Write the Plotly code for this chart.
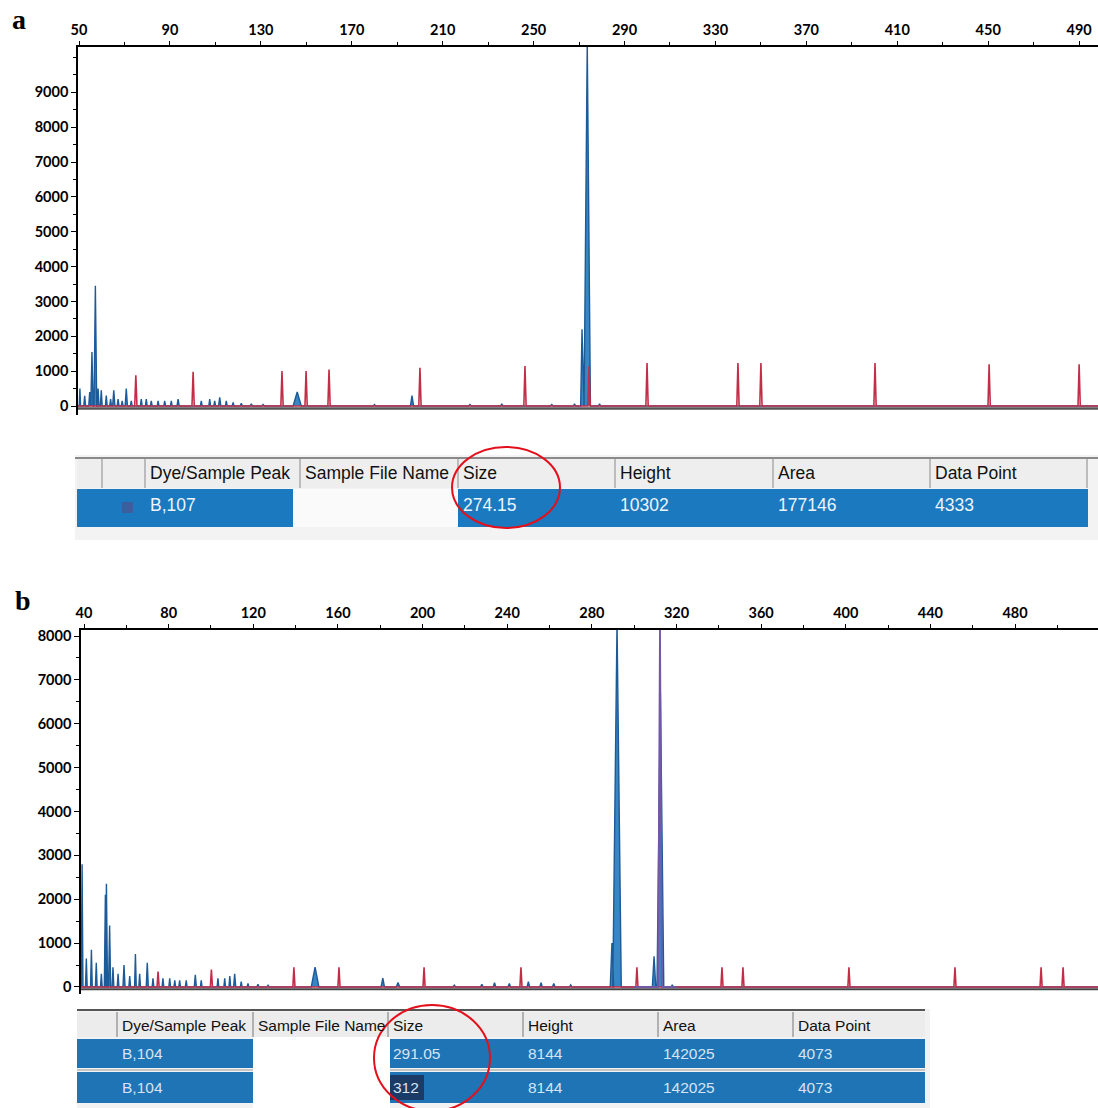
import plotly.graph_objects as go

# ---------------- DATA ----------------
# Panel a : blue sample dye peaks (size bp, height RFU, half-width bp)
a_blue_size = [50.4, 52.5, 54.7, 55.7, 57.2, 58.4, 59.8, 62.0, 63.9, 65.3, 67.2, 69.0, 70.8, 73.0,
               77.4, 79.6, 81.8, 84.8, 87.7, 90.6, 93.6, 103.8, 107.5, 109.7, 111.9, 114.8, 117.8,
               121.4, 125.8, 131.0, 146.0, 180.0, 196.5, 222.0, 236.0, 258.0, 268.0, 271.3, 273.6, 279.0]
a_blue_height = [500, 290, 400, 1550, 3450, 500, 450, 300, 200, 450, 200, 150, 500, 150,
                 200, 200, 150, 150, 150, 150, 200, 150, 200, 150, 250, 150, 100,
                 80, 60, 40, 400, 40, 300, 40, 50, 40, 60, 2200, 10400, 60]
a_blue_width = [0.3, 0.4, 0.4, 0.5, 0.6, 0.4, 0.4, 0.4, 0.4, 0.5, 0.4, 0.4, 0.5, 0.4,
                0.4, 0.4, 0.4, 0.4, 0.4, 0.4, 0.5, 0.4, 0.4, 0.4, 0.5, 0.4, 0.4,
                0.5, 0.5, 0.6, 1.8, 0.5, 0.7, 0.6, 0.6, 0.6, 0.5, 0.6, 1.4, 0.5]
# Panel a : red size-standard peaks
a_red_size = [75.0, 100.2, 139.3, 149.9, 160.0, 200.0, 246.2, 274.4, 299.9, 339.9, 350.0, 400.2, 450.4, 490.0]
a_red_height = [880, 980, 1000, 1000, 1050, 1100, 1150, 1150, 1230, 1230, 1230, 1230, 1200, 1200]

# Panel b : blue sample dye peaks
b_blue_size = [39.1, 41.1, 43.5, 45.8, 48.2, 50.1, 50.6, 52.1, 53.7, 56.1, 58.9, 61.6, 64.3, 66.3,
               69.9, 72.6, 77.3, 80.5, 82.9, 85.2, 88.3, 92.6, 95.4, 103.3, 106.5, 108.9, 111.2,
               114.3, 117.5, 122.2, 127.0, 149.2, 181.2, 188.4, 215.0, 228.0, 234.0, 241.0, 250.0,
               256.0, 262.0, 270.0, 289.5, 291.9, 309.4, 312.4, 318.0]
b_blue_height = [2800, 650, 850, 550, 300, 2100, 2350, 1400, 450, 300, 500, 250, 750, 300,
                 550, 200, 200, 200, 150, 150, 150, 280, 150, 200, 200, 250, 300,
                 120, 80, 60, 40, 450, 200, 100, 40, 60, 100, 80, 120,
                 100, 80, 50, 1000, 8300, 700, 6700, 50]
b_blue_width = [0.4, 0.4, 0.4, 0.4, 0.4, 0.5, 0.5, 0.5, 0.4, 0.4, 0.5, 0.4, 0.4, 0.4,
                0.5, 0.4, 0.4, 0.4, 0.4, 0.4, 0.4, 0.5, 0.4, 0.4, 0.4, 0.4, 0.5,
                0.4, 0.4, 0.5, 0.5, 1.8, 0.8, 0.8, 0.6, 0.6, 0.6, 0.6, 0.6,
                0.6, 0.6, 0.6, 0.8, 2.0, 0.8, 1.6, 0.5]
# Panel b : red size-standard peaks
b_red_size = [75.0, 100.2, 139.2, 160.5, 200.7, 246.5, 301.3, 341.5, 351.4, 401.5, 451.6, 492.3, 502.7]
b_red_height = [350, 400, 450, 450, 450, 450, 450, 450, 450, 450, 450, 450, 450]
# Panel b : purple peak
b_purple_size = [312.2]
b_purple_height = [8300]

# Axis ticks
a_xticks = [50, 90, 130, 170, 210, 250, 290, 330, 370, 410, 450, 490]
a_yticks = [0, 1000, 2000, 3000, 4000, 5000, 6000, 7000, 8000, 9000]
b_xticks = [40, 80, 120, 160, 200, 240, 280, 320, 360, 400, 440, 480]
b_yticks = [0, 1000, 2000, 3000, 4000, 5000, 6000, 7000, 8000]

# Tables
table_headers = ["Dye/Sample Peak", "Sample File Name", "Size", "Height", "Area", "Data Point"]
a_rows = [["B,107", "", "274.15", "10302", "177146", "4333"]]
b_rows = [["B,104", "", "291.05", "8144", "142025", "4073"],
          ["B,104", "", "312", "8144", "142025", "4073"]]

# ---------------- HELPERS ----------------
W, H = 1098, 1108


def px(x):
    return x / W


def py(y):
    return 1 - y / H


def spikes(sizes, heights, widths, lo, hi):
    xs, ys = [lo], [0]
    for s, h, w in sorted(zip(sizes, heights, widths)):
        xs += [s - w, s, s + w]
        ys += [0, h, 0]
    xs.append(hi)
    ys.append(0)
    return xs, ys


A_XR = [49.56, 498.3]
A_YR = [-258, 10300]
B_XR = [38.58, 519.2]
B_YR = [-160, 8137]

BLUE_LINE = "#1d5a98"
BLUE_FILL = "rgba(34,122,190,0.9)"
RED = "#c22e48"
PURPLE = "#7457a6"

fig = go.Figure()

# panel a traces
x, y = spikes(a_blue_size, a_blue_height, a_blue_width, A_XR[0], A_XR[1])
fig.add_trace(go.Scatter(x=x, y=y, mode="lines", line=dict(color=BLUE_LINE, width=1.4),
                         fill="tozeroy", fillcolor=BLUE_FILL, xaxis="x", yaxis="y", hoverinfo="skip"))
x, y = spikes(a_red_size, a_red_height, [0.5] * len(a_red_size), A_XR[0], A_XR[1])
fig.add_trace(go.Scatter(x=x, y=y, mode="lines", line=dict(color=RED, width=1.6),
                         xaxis="x", yaxis="y", hoverinfo="skip"))

# panel b traces
x, y = spikes(b_blue_size, b_blue_height, b_blue_width, B_XR[0], B_XR[1])
fig.add_trace(go.Scatter(x=x, y=y, mode="lines", line=dict(color=BLUE_LINE, width=1.4),
                         fill="tozeroy", fillcolor=BLUE_FILL, xaxis="x2", yaxis="y2", hoverinfo="skip"))
x, y = spikes(b_red_size, b_red_height, [0.5] * len(b_red_size), B_XR[0], B_XR[1])
fig.add_trace(go.Scatter(x=x, y=y, mode="lines", line=dict(color=RED, width=1.6),
                         xaxis="x2", yaxis="y2", hoverinfo="skip"))
x, y = spikes(b_purple_size, b_purple_height, [0.9], 300, 320)
fig.add_trace(go.Scatter(x=x, y=y, mode="lines", line=dict(color=PURPLE, width=1.8),
                         xaxis="x2", yaxis="y2", hoverinfo="skip"))

tickfont = dict(family="Lato", size=14.5, color="black", weight="bold")

xa_common = dict(side="top", showline=True, linecolor="black", linewidth=1.5, ticks="outside",
                 ticklen=4, tickcolor="black", tickwidth=1, showgrid=False, zeroline=False,
                 tickfont=tickfont, automargin=False, fixedrange=True,
                 minor=dict(ticks="outside", ticklen=3, tickcolor="black", dtick=20))
ya_common = dict(showline=True, linecolor="black", linewidth=1.5, ticks="outside", ticklen=5,
                 tickcolor="black", showgrid=False, zeroline=False, tickfont=tickfont,
                 automargin=False, fixedrange=True,
                 minor=dict(ticks="outside", ticklen=3, tickcolor="black", dtick=500))

fig.update_layout(
    width=W, height=H, margin=dict(l=0, r=0, t=0, b=0), autosize=False,
    paper_bgcolor="white", plot_bgcolor="white", showlegend=False, template="none",
    xaxis=dict(domain=[px(78), 1], range=A_XR, tickvals=a_xticks, anchor="y", **xa_common),
    yaxis=dict(domain=[py(415), py(47)], range=A_YR, tickvals=a_yticks, anchor="x", **ya_common),
    xaxis2=dict(domain=[px(81), 1], range=B_XR, tickvals=b_xticks, anchor="y2", **xa_common),
    yaxis2=dict(domain=[py(994), py(630)], range=B_YR, tickvals=b_yticks, anchor="x2", **ya_common),
)
fig.layout.xaxis.minor.tick0 = 50
fig.layout.xaxis2.minor.tick0 = 40

shapes = []
annots = []

# baselines
shapes.append(dict(type="line", xref="paper", yref="y", x0=px(78), x1=1, y0=-70, y1=-70,
                   line=dict(color="#555555", width=2.5)))
shapes.append(dict(type="line", xref="paper", yref="y2", x0=px(81), x1=1, y0=-50, y1=-50,
                   line=dict(color="#444444", width=2)))


def rect(x0, y0, x1, y1, fill, line=None):
    d = dict(type="rect", xref="paper", yref="paper", x0=px(x0), x1=px(x1), y0=py(y1), y1=py(y0),
             fillcolor=fill, layer="above")
    d["line"] = dict(width=0) if line is None else line
    shapes.append(d)


def hline(x0, x1, y, color, width):
    shapes.append(dict(type="line", xref="paper", yref="paper", x0=px(x0), x1=px(x1),
                       y0=py(y), y1=py(y), line=dict(color=color, width=width)))


def vline(x, y0, y1, color, width):
    shapes.append(dict(type="line", xref="paper", yref="paper", x0=px(x), x1=px(x),
                       y0=py(y0), y1=py(y1), line=dict(color=color, width=width)))


def text(x, y, s, size, color, family="Liberation Sans"):
    annots.append(dict(xref="paper", yref="paper", x=px(x), y=py(y), text=s, showarrow=False,
                       xanchor="left", yanchor="middle",
                       font=dict(family=family, size=size, color=color)))


# ---------- Table a ----------
TBLUE_A = "#1b79bf"
rect(75, 455, 1098, 540, "#f3f3f3")
rect(77, 459, 1088, 488, "#eeeeee")
hline(75, 1098, 458, "#8a8a8a", 2)
a_cols = [77, 102, 145, 300, 458, 615, 773, 930, 1087]
for cx in a_cols[1:]:
    vline(cx, 459, 488, "#9a9a9a", 1.2)
rect(77, 489, 293, 527, TBLUE_A)
rect(293, 489, 458, 527, "#fafafa")
rect(458, 489, 1088, 527, TBLUE_A)
rect(122, 502, 133, 513, "#3a5f9c")
for i, h in enumerate(table_headers):
    text(a_cols[i + 2] + 3, 473, h, 17.5, "#111111")
for row in a_rows:
    for i, v in enumerate(row):
        if v:
            text(a_cols[i + 2] + 3, 505, v, 17.5, "#eef4fb")
shapes.append(dict(type="circle", xref="paper", yref="paper", x0=px(452), x1=px(560),
                   y0=py(528), y1=py(447), line=dict(color="#e3101c", width=2)))

# ---------- Table b ----------
TBLUE_B = "#1f74b6"
rect(77, 1009, 930, 1108, "#f2f2f2")
rect(77, 1012, 925, 1037, "#ececec")
hline(77, 925, 1010, "#555555", 2)
b_cols = [77, 117, 253, 388, 523, 658, 793, 925]
for cx in b_cols[1:-1]:
    vline(cx, 1012, 1037, "#8a8a8a", 1.2)
rect(253, 1037, 390, 1108, "#ffffff")
row_y = [(1039, 1068), (1072, 1103)]
for (y0, y1) in row_y:
    rect(77, y0, 253, y1, TBLUE_B)
    rect(390, y0, 925, y1, TBLUE_B)
hline(77, 253, 1070, "#9a9a9a", 1)
hline(390, 925, 1070, "#9a9a9a", 1)
rect(390, 1075, 424, 1100, "#1b3a66")
for i, h in enumerate(table_headers):
    text(b_cols[i + 1] + 3, 1025, h, 15.5, "#111111")
for r, row in enumerate(b_rows):
    yc = (row_y[r][0] + row_y[r][1]) / 2
    for i, v in enumerate(row):
        if v:
            text(b_cols[i + 1] + 3, yc, v, 15.5, "#d6e4f2")
shapes.append(dict(type="circle", xref="paper", yref="paper", x0=px(374), x1=px(490),
                   y0=py(1111), y1=py(1005), line=dict(color="#e3101c", width=2)))

# panel letters
annots.append(dict(xref="paper", yref="paper", x=px(10), y=py(19), text="<b>a</b>", showarrow=False,
                   xanchor="left", yanchor="middle",
                   font=dict(family="Liberation Serif", size=28, color="black")))
annots.append(dict(xref="paper", yref="paper", x=px(13), y=py(600), text="<b>b</b>", showarrow=False,
                   xanchor="left", yanchor="middle",
                   font=dict(family="Liberation Serif", size=28, color="black")))

fig.update_layout(shapes=shapes, annotations=annots)
fig.write_html("out.html", config={"displayModeBar": False},
               post_script="document.body.style.margin='0px';document.body.style.overflow='hidden';")
